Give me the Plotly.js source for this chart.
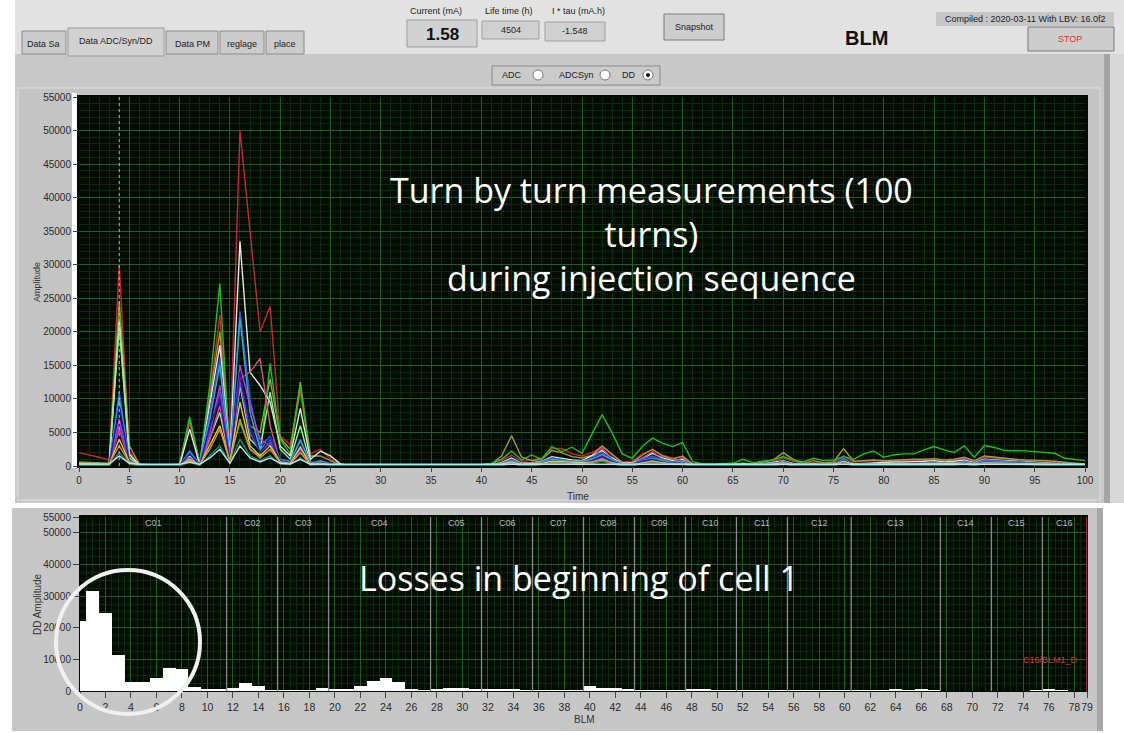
<!DOCTYPE html>
<html>
<head>
<meta charset="utf-8">
<script src="https://cdn.plot.ly/plotly-3.0.1.min.js"></script>
<style>
  html, body { margin: 0; padding: 0; background: #ffffff; }
  #chart { width: 1124px; height: 733px; }
</style>
</head>
<body>
<div id="chart"></div>
<script>
// ---------- Turn-by-turn amplitudes (one array per BLM trace, turns 0..100) ----------
const turns = Array.from({ length: 101 }, (_, i) => i);

const redTrace = [
  2000,1700,1300,900,30000,2200,300,200,150,150,
  300,6500,400,10500,22500,2500,50000,35000,20000,23800,
  4500,3200,11000,1800,2500,1000,200,100,100,100,
  100,100,100,100,100,100,100,100,100,150,
  200,400,800,1600,700,900,1200,2600,2600,1800,
  1500,2000,2900,1600,600,700,1800,2400,1600,1200,
  1400,300,200,200,200,300,300,200,400,600,
  1200,700,400,500,400,500,1500,600,700,800,
  700,800,800,900,900,1000,800,900,1200,700,
  1300,1200,1000,900,800,800,700,600,500,400,
  300];

const greenTrace = [
  600,500,400,400,23000,1500,100,50,50,50,
  200,7300,300,12000,27200,1200,6500,2500,1500,15300,
  4000,1800,12000,600,300,200,100,50,50,50,
  50,50,50,50,50,50,50,50,50,100,
  200,400,1000,2200,900,1650,1000,2900,2150,2800,
  1900,4800,7650,4900,1800,1150,2900,4150,3400,2900,
  3500,650,300,300,300,400,1000,500,700,900,
  1400,900,600,1150,800,900,1400,1000,1800,2200,
  1300,1650,1800,1800,2400,2900,2400,2000,3000,1300,
  3050,2750,2300,2300,2250,2150,2050,1900,1150,1000,
  800];

const whiteTrace = [
  300,300,200,200,21500,1800,100,50,50,50,
  100,5500,200,9000,18000,1500,33500,14000,12000,9500,
  3000,1500,8600,1000,2200,1500,300,50,50,50,
  50,50,50,50,50,50,50,50,50,50,
  100,200,500,1200,400,500,700,1400,1100,900,
  800,1500,2300,1200,400,400,1200,1900,1200,800,
  1000,200,100,100,100,100,150,100,300,500,
  800,400,200,300,200,300,1000,300,400,500,
  500,600,600,600,700,800,600,700,900,500,
  1000,900,800,700,600,600,500,400,300,300,
  200];

const oliveTrace = [
  400,300,300,300,24500,3000,300,100,100,100,
  200,7000,500,10000,20000,2000,12000,6000,5000,13000,
  4200,2500,12500,1500,1500,800,100,50,50,50,
  50,50,50,50,50,50,50,50,50,100,
  200,300,1500,4500,1300,800,1000,2300,2000,1400,
  1200,1600,3000,1800,500,500,1600,2500,1500,1000,
  1500,300,200,200,200,300,400,300,600,900,
  2000,1000,400,800,500,600,2600,700,800,900,
  800,900,900,1000,1000,1100,900,1000,1300,800,
  1500,1300,1100,1000,900,900,800,700,500,400,
  300];

const lightGreenTrace = [
  300,250,200,200,21000,1200,100,50,50,50,
  100,1500,200,4000,8000,800,12000,4000,2500,11000,
  2500,1000,6000,400,400,300,100,50,50,50,
  50,50,50,50,50,50,50,50,50,50,
  100,150,300,600,200,300,400,700,600,500,
  400,700,1200,600,200,200,600,900,600,400,
  500,100,50,50,50,100,300,100,200,300,
  500,200,100,200,100,200,500,200,300,300,
  300,300,300,300,400,400,300,400,500,300,
  500,500,400,400,300,300,300,200,200,200,
  150];

const blueTrace = [
  200,200,150,150,11000,800,100,50,50,50,
  100,2300,200,8000,16000,1200,23000,10000,3000,4400,
  1000,700,4000,500,800,400,100,50,50,50,
  50,50,50,50,50,50,50,50,50,50,
  100,200,400,1000,300,400,600,1200,900,700,
  700,1200,2000,1000,300,300,1000,1500,900,600,
  800,100,50,50,50,100,100,100,300,400,
  700,300,100,200,100,200,1200,200,300,300,
  300,400,400,400,500,500,400,500,700,400,
  900,800,700,600,500,500,400,300,300,200,
  200];

const cyanTrace = [
  250,200,200,150,10000,700,100,50,50,50,
  100,2000,200,7000,15000,1000,22000,8000,2500,4000,
  900,600,3800,400,700,300,100,50,50,50,
  50,50,50,50,50,50,50,50,50,50,
  100,150,300,800,250,350,500,1000,800,600,
  600,1000,1700,900,250,250,800,1200,800,500,
  700,100,50,50,50,100,100,100,250,350,
  600,250,100,150,100,150,1000,150,250,250,
  250,350,350,350,400,400,350,400,600,350,
  700,650,600,500,450,400,350,300,250,200,
  150];

const navyTrace = [
  150,150,100,100,9000,600,80,40,40,40,
  80,1800,150,6000,10000,900,14000,6000,2000,4200,
  800,500,3000,300,500,250,80,40,40,40,
  40,40,40,40,40,40,40,40,40,40,
  80,120,250,600,200,250,400,800,600,450,
  450,800,1400,700,200,200,700,1000,600,400,
  500,80,40,40,40,80,80,80,200,300,
  500,200,80,120,80,120,900,120,200,200,
  200,250,250,250,300,300,250,300,450,250,
  600,550,500,400,350,300,250,200,200,150,
  100];

const magentaTrace = [
  150,150,100,100,7000,500,80,40,40,40,
  80,1200,150,5000,12000,800,15000,9000,4000,3000,
  700,400,2500,300,400,200,80,40,40,40,
  40,40,40,40,40,40,40,40,40,40,
  80,100,200,500,150,200,300,600,500,400,
  400,700,1500,600,150,150,600,900,500,300,
  400,80,40,40,40,80,80,80,150,200,
  400,150,80,100,80,100,700,100,150,150,
  150,200,200,200,250,250,200,250,400,200,
  500,450,400,350,300,250,200,150,150,100,
  80];

const pinkTrace = [
  200,150,150,100,5500,500,80,40,40,40,
  80,1000,150,4000,9000,700,13000,14000,16000,6000,
  600,400,2000,300,400,200,80,40,40,40,
  40,40,40,40,40,40,40,40,40,40,
  80,100,300,700,200,300,500,1000,900,600,
  600,1200,2600,1000,200,200,1200,2100,1000,600,
  1200,100,50,50,50,100,100,100,200,300,
  600,250,100,150,100,150,800,150,250,250,
  250,300,300,300,350,350,300,350,700,300,
  900,800,600,500,400,350,300,250,200,150,
  100];

const purpleTrace = [
  150,150,100,100,6000,500,80,40,40,40,
  80,1100,150,5000,11000,800,12500,5000,2000,3500,
  700,400,2600,300,400,200,80,40,40,40,
  40,40,40,40,40,40,40,40,40,40,
  80,100,200,500,150,200,300,600,500,400,
  400,700,1300,600,150,150,500,800,500,300,
  400,80,40,40,40,80,80,80,150,200,
  400,150,80,100,80,100,600,100,150,150,
  150,200,200,200,250,250,200,250,400,200,
  500,450,400,350,300,250,200,150,150,100,
  80];

const yellowTrace = [
  300,250,200,200,4000,600,150,100,100,100,
  150,1000,200,3000,6000,700,9500,3000,1500,3000,
  600,400,2800,300,400,200,100,100,100,100,
  100,100,100,100,100,100,100,100,100,100,
  150,200,300,600,250,300,400,700,600,500,
  500,600,900,500,200,200,500,700,500,300,
  400,150,100,100,100,150,150,150,200,300,
  500,200,150,200,150,200,700,200,250,250,
  250,300,300,300,300,300,300,300,400,250,
  500,450,400,350,300,300,250,200,200,150,
  150];

const orangeTrace = [
  500,450,400,350,3000,500,100,50,50,50,
  100,800,150,2500,5500,600,7000,2500,1200,2500,
  500,300,2000,200,300,150,60,40,40,40,
  40,40,40,40,40,40,40,40,40,40,
  60,80,150,400,120,150,250,500,400,300,
  300,500,1000,400,120,120,400,600,400,250,
  300,60,40,40,40,60,60,60,120,150,
  300,120,60,80,60,80,500,80,120,120,
  120,150,150,150,200,200,150,200,300,150,
  400,350,300,250,200,200,150,120,100,80,
  60];

const tealTrace = [
  100,100,80,80,2000,300,60,30,30,30,
  60,500,100,1500,3000,400,4000,1500,800,1500,
  300,200,1200,150,200,100,50,30,30,30,
  30,30,30,30,30,30,30,30,30,30,
  50,60,100,300,100,120,200,350,300,200,
  200,350,700,300,100,100,300,450,300,200,
  250,50,30,30,30,50,50,50,100,120,
  250,100,50,60,50,60,400,60,100,100,
  100,120,120,120,150,150,120,150,250,120,
  300,280,250,200,180,150,120,100,80,60,
  50];

const lightBlueTrace = [
  300,300,280,280,1500,400,250,250,250,250,
  250,600,250,1200,2500,400,3000,1200,600,1200,
  400,300,1000,250,300,250,250,250,250,250,
  250,250,250,250,250,250,250,250,250,250,
  250,250,250,250,250,250,250,250,250,250,
  250,250,300,250,250,250,250,250,250,250,
  250,250,250,250,250,250,250,250,250,250,
  250,250,250,250,250,250,300,250,250,250,
  250,250,250,250,250,250,250,250,250,250,
  250,250,250,250,250,250,250,250,250,250,
  250];

// ---------- DD amplitude per BLM (0..79) ----------
const blmIndex = [
  0,1,2,3,4,5,6,7,8,9,10,11,12,13,14,15,16,17,18,19,
  20,21,22,23,24,25,26,27,28,29,30,31,32,33,34,35,36,37,38,39,
  40,41,42,43,44,45,46,47,48,49,50,51,52,53,54,55,56,57,58,59,
  60,61,62,63,64,65,66,67,68,69,70,71,72,73,74,75,76,77,78,79];
const ddAmplitude = [
  22000,31500,24500,11500,3000,2800,4200,7400,6900,1300,
  500,700,800,2500,1500,400,300,300,400,800,
  600,500,1700,3200,4000,2900,600,400,700,900,
  900,600,500,600,500,300,300,300,300,400,
  1500,900,900,500,300,300,300,400,600,600,
  400,300,300,300,300,300,200,200,200,200,
  200,200,300,300,700,400,700,200,100,100,
  100,100,100,100,100,200,500,200,100,100];

// cells: name and first BLM of each cell
const cellNames = ['C01','C02','C03','C04','C05','C06','C07','C08','C09','C10','C11','C12','C13','C14','C15','C16'];
const cellFirstBlm = [0,12,16,20,28,32,36,40,44,48,52,56,61,68,72,76];
const lastBlm = 79;

// tick labels
const timeTicks = [0,5,10,15,20,25,30,35,40,45,50,55,60,65,70,75,80,85,90,95,100];
const ampTicks = [0,5000,10000,15000,20000,25000,30000,35000,40000,45000,50000,55000];
const blmTicks = [0,2,4,6,8,10,12,14,16,18,20,22,24,26,28,30,32,34,36,38,40,42,44,46,48,50,52,54,56,58,60,62,64,66,68,70,72,74,76,78,79];
const ddTicks = [0,10000,20000,30000,40000,50000,55000];

// ---------- helpers (pixel -> paper) ----------
const W = 1124, H = 733;
const PX = x => x / W;
const PY = y => 1 - y / H;
function rect(x0, y0, x1, y1, fill, line, lw, layer) {
  return { type: 'rect', xref: 'paper', yref: 'paper',
    x0: PX(x0), x1: PX(x1), y0: PY(y1), y1: PY(y0),
    fillcolor: fill, line: { color: line || fill, width: line ? (lw || 1) : 0 },
    layer: layer || 'below' };
}
function circ(cx, cy, r, fill, line, lw, layer) {
  return { type: 'circle', xref: 'paper', yref: 'paper',
    x0: PX(cx - r), x1: PX(cx + r), y0: PY(cy + r), y1: PY(cy - r),
    fillcolor: fill, line: { color: line, width: lw }, layer: layer || 'above' };
}
const UI_FONT = 'Liberation Sans, Arial, sans-serif';
const NOTE_FONT = 'Open Sans, sans-serif';
function label(x, y, text, size, color, extra) {
  return Object.assign({ xref: 'paper', yref: 'paper', x: PX(x), y: PY(y),
    text: text, showarrow: false, xanchor: 'center', yanchor: 'middle',
    font: { family: UI_FONT, size: size || 9, color: color || '#222' } }, extra || {});
}
function note(x, y, text, size) {
  return { xref: 'paper', yref: 'paper', x: PX(x), y: PY(y), text: text,
    showarrow: false, xanchor: 'center', yanchor: 'middle', align: 'center',
    font: { family: NOTE_FONT, size: size, color: '#ffffff' } };
}

// ---------- traces ----------
const lineSeries = [
  { y: redTrace, c: '#cc2630' },
  { y: oliveTrace, c: '#a89a36' },
  { y: greenTrace, c: '#20c020' },
  { y: whiteTrace, c: '#e6e6e6' },
  { y: lightGreenTrace, c: '#96f096' },
  { y: pinkTrace, c: '#e04c88' },
  { y: blueTrace, c: '#2e5ce6' },
  { y: cyanTrace, c: '#2cb0d0' },
  { y: magentaTrace, c: '#cc3ccc' },
  { y: purpleTrace, c: '#7a3ae0' },
  { y: navyTrace, c: '#1c20a8' },
  { y: yellowTrace, c: '#e0d03c' },
  { y: orangeTrace, c: '#e08a30' },
  { y: tealTrace, c: '#1e9060' },
  { y: lightBlueTrace, c: '#b8e4ff' }
];
const traces = lineSeries.map(s => ({
  type: 'scatter', mode: 'lines', x: turns, y: s.y,
  line: { color: s.c, width: 1.4 }, hoverinfo: 'skip', xaxis: 'x', yaxis: 'y'
}));
traces.push({
  type: 'bar', x: blmIndex, y: ddAmplitude, width: 1,
  marker: { color: '#ffffff', line: { width: 0 } },
  hoverinfo: 'skip', xaxis: 'x2', yaxis: 'y2'
});

// ---------- GUI chrome ----------
const shapes = [
  rect(15, 0, 1124, 54, '#e2e2e2'),
  rect(15, 54, 1104, 503, '#c8c8c8'),
  rect(1104, 54, 1110, 503, '#a4a4a4'),
  rect(1110, 54, 1124, 503, '#d8d8d8'),
  rect(18, 88, 1100, 500, '#c4c4c4', '#dedede', 1),
  rect(12, 508, 1100, 731, '#c6c6c6'),
  rect(1097, 508, 1103, 731, '#a8a8a8'),
  // plot areas
  rect(77, 95, 1088, 468, '#030b03'),
  rect(79, 515, 1088, 692, '#030b03'),
  rect(72, 93, 77, 468, '#ffffff'),
  // tabs
  rect(22, 31, 66, 54, '#cbcbcb', '#8c8c8c', 1),
  rect(166, 31, 218, 54, '#cbcbcb', '#8c8c8c', 1),
  rect(220, 31, 264, 54, '#cbcbcb', '#8c8c8c', 1),
  rect(266, 31, 304, 54, '#cbcbcb', '#8c8c8c', 1),
  rect(68, 28, 164, 56, '#d2d2d2', '#9a9a9a', 1),
  // value boxes and buttons
  rect(407, 20, 477, 47, '#d2d2d2', '#9c9c9c', 1),
  rect(482, 21, 539, 39, '#d0d0d0', '#a0a0a0', 1),
  rect(545, 22, 605, 41, '#d0d0d0', '#a0a0a0', 1),
  rect(664, 14, 724, 40, '#cdcdcd', '#7a7a7a', 1),
  rect(936, 12, 1114, 26, '#c6c6c6'),
  rect(1028, 27, 1114, 51, '#cdcdcd', '#7a7a7a', 1),
  // radio selector
  rect(492, 66, 660, 85, '#cacaca', '#8a8a8a', 1),
  circ(538, 75, 5, '#ffffff', '#777', 1, 'below'),
  circ(605, 75, 5, '#ffffff', '#777', 1, 'below'),
  circ(648, 75, 5, '#ffffff', '#777', 1, 'below'),
  circ(648, 75, 1.6, '#222', '#222', 1, 'below'),
  // cursor at turn 4
  { type: 'line', xref: 'x', yref: 'y domain', x0: 4, x1: 4, y0: 0, y1: 1,
    line: { color: '#b4b4b4', width: 1, dash: 'dot' }, layer: 'above' },
  // right edge of the BLM plot
  { type: 'line', xref: 'x2', yref: 'y2 domain', x0: lastBlm, x1: lastBlm, y0: 0, y1: 1,
    line: { color: '#e02040', width: 1.5 }, layer: 'above' }
];
// cell boundaries
cellFirstBlm.slice(1).forEach(b => shapes.push({
  type: 'line', xref: 'x2', yref: 'y2 domain', x0: b - 0.5, x1: b - 0.5, y0: 0, y1: 1,
  line: { color: '#8a8a8a', width: 1.3 }, layer: 'above'
}));
// highlight ring
shapes.push(circ(128, 642, 72, 'rgba(0,0,0,0)', '#f0f0f0', 4, 'above'));

const annotations = [
  label(43, 44, 'Data Sa'),
  label(116, 41, 'Data ADC/Syn/DD'),
  label(192, 44, 'Data PM'),
  label(242, 44, 'reglage'),
  label(285, 44, 'place'),
  label(436, 11, 'Current (mA)'),
  label(442, 34, '<b>1.58</b>', 17, '#111'),
  label(509, 11, 'Life time (h)'),
  label(511, 30, '4504', 9),
  label(578, 11, 'I * tau (mA.h)'),
  label(575, 31, '-1.548', 9),
  label(694, 27, 'Snapshot'),
  label(866, 38, '<b>BLM</b>', 20, '#111'),
  label(1025, 19, 'Compiled : 2020-03-11 With LBV: 16.0f2'),
  label(1070, 39, 'STOP', 9, '#e03030'),
  label(512, 75, 'ADC'),
  label(576, 75, 'ADCSyn'),
  label(629, 75, 'DD'),
  label(37, 282, 'Amplitude', 9, '#333', { textangle: -90 }),
  label(578, 496, 'Time', 10, '#333'),
  label(37, 604, 'DD Amplitude', 10, '#333', { textangle: -90 }),
  label(584, 719, 'BLM', 10, '#333'),
  label(1080, 660, 'C16/BLM1_D', 9, '#d83048', { xanchor: 'right' }),
  // overlay notes
  note(651, 234, 'Turn by turn measurements (100<br>turns)<br>during injection sequence', 34),
  note(579, 578, 'Losses in beginning of cell 1', 34)
];
// cell names centred in each cell
cellNames.forEach((n, i) => {
  const start = cellFirstBlm[i] - 0.5 < 0 ? 0 : cellFirstBlm[i] - 0.5;
  const end = i + 1 < cellFirstBlm.length ? cellFirstBlm[i + 1] - 0.5 : lastBlm;
  annotations.push({ xref: 'x2', yref: 'paper', x: (start + end) / 2, y: PY(523),
    text: n, showarrow: false, xanchor: 'center', yanchor: 'middle',
    font: { family: UI_FONT, size: 9, color: '#b4b4b4' } });
});

const tickFont = { family: UI_FONT, size: 10, color: '#2a2a2a' };
const MAJOR = '#176417', MINOR = '#0a2c0a';
const layout = {
  width: W, height: H,
  margin: { l: 0, r: 0, t: 0, b: 0 },
  paper_bgcolor: '#ffffff',
  plot_bgcolor: 'rgba(0,0,0,0)',
  showlegend: false,
  bargap: 0,
  xaxis: {
    domain: [PX(79), PX(1085)], range: [0, 100], anchor: 'y',
    tickvals: timeTicks, ticktext: timeTicks.map(String), tickangle: 0,
    ticks: 'outside', ticklen: 5, tickcolor: '#444', tickfont: tickFont,
    showgrid: true, gridcolor: MAJOR, gridwidth: 1,
    minor: { dtick: 1, showgrid: true, gridcolor: MINOR, ticks: '' },
    zeroline: false, showline: false, fixedrange: true
  },
  yaxis: {
    domain: [PY(466), PY(97)], range: [0, 55000], anchor: 'x',
    tickvals: ampTicks, ticktext: ampTicks.map(String),
    ticks: 'outside', ticklen: 5, tickcolor: '#444', tickfont: tickFont,
    showgrid: true, gridcolor: MAJOR, gridwidth: 1,
    minor: { dtick: 1000, showgrid: true, gridcolor: MINOR, ticks: '' },
    zeroline: false, showline: false, fixedrange: true
  },
  xaxis2: {
    domain: [PX(80), PX(1087)], range: [0, 79], anchor: 'y2',
    tickvals: blmTicks, ticktext: blmTicks.map(String), tickangle: 0,
    ticks: 'outside', ticklen: 6, tickcolor: '#444',
    tickfont: { family: UI_FONT, size: 10.5, color: '#2a2a2a' },
    showgrid: true, gridcolor: MAJOR, gridwidth: 1,
    minor: { dtick: 0.5, showgrid: true, gridcolor: MINOR, ticks: '' },
    zeroline: false, showline: false, fixedrange: true
  },
  yaxis2: {
    domain: [PY(691), PY(517)], range: [0, 55000], anchor: 'x2',
    tickvals: ddTicks, ticktext: ddTicks.map(String),
    ticks: 'outside', ticklen: 6, tickcolor: '#444', tickfont: tickFont,
    showgrid: true, gridcolor: MAJOR, gridwidth: 1,
    minor: { dtick: 2500, showgrid: true, gridcolor: MINOR, ticks: '' },
    zeroline: false, showline: false, fixedrange: true
  },
  shapes: shapes,
  annotations: annotations
};

Plotly.newPlot('chart', traces, layout, { displayModeBar: false, staticPlot: true });
</script>
</body>
</html>
